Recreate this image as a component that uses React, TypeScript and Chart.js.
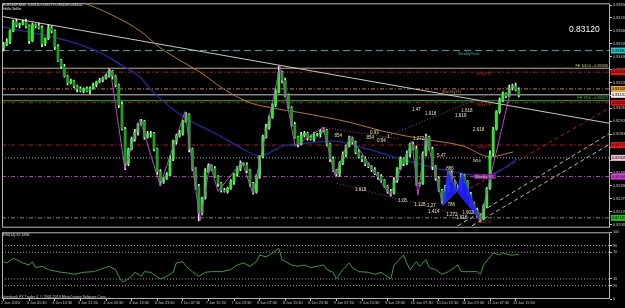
import { useEffect, useRef } from "react";
import { Chart, registerables } from "chart.js";

Chart.register(...registerables);

const FONT = "'Liberation Sans', 'DejaVu Sans', Arial, sans-serif";

// ---------------- texts ----------------
const symbolHeader = "EURGBP,M30  0.83110 0.83179 0.83108 0.83120";
const indicatorName = "Hello Seller";
const lastPriceText = "0.83120";
const rsiHeader = "RSI(14) 67.1296";
const copyright = "Interbank FX Trader 4, \u00a9 2001-2010 MetaQuotes Software Corp.";

// ---------------- time axis ----------------
const timeLabels = [
  "2 Jun 2010", "3 Jun 05:30", "3 Jun 13:30", "3 Jun 21:30", "4 Jun 05:30", "4 Jun 13:30",
  "6 Jun 23:30", "7 Jun 07:30", "7 Jun 15:30", "7 Jun 23:30", "8 Jun 07:30", "8 Jun 15:30",
  "8 Jun 23:30", "9 Jun 07:30", "9 Jun 15:30", "9 Jun 23:30", "10 Jun 07:30", "10 Jun 15:30",
  "10 Jun 23:30", "11 Jun 07:30", "11 Jun 15:30",
];
const timeTickBars = [0, 8, 16, 24, 32, 40, 48, 56, 64, 72, 80, 88, 96, 104, 112, 120, 128, 136, 144, 152, 160];

// ---------------- price bars ----------------
const firstOpen = 0.835;
const closes = [
  0.83528, 0.83552, 0.8364, 0.83712, 0.83688, 0.83696, 0.83712, 0.8368, 0.8356, 0.83688,
  0.8368, 0.83664, 0.83536, 0.83576, 0.83664, 0.8364, 0.83512, 0.834, 0.83352, 0.83272,
  0.83216, 0.83232, 0.83192, 0.83168, 0.83152, 0.83168, 0.83152, 0.83176, 0.832, 0.83224,
  0.8324, 0.83256, 0.83272, 0.83312, 0.83272, 0.832, 0.8304, 0.8284, 0.8256, 0.8268,
  0.8276, 0.82816, 0.8288, 0.82904, 0.82776, 0.828, 0.82808, 0.8268, 0.82496, 0.82416,
  0.8244, 0.82472, 0.826, 0.82744, 0.82784, 0.82808, 0.82904, 0.8296, 0.8268, 0.8252,
  0.82376, 0.8216, 0.8228, 0.82496, 0.82544, 0.8252, 0.82456, 0.824, 0.82344, 0.82336,
  0.8236, 0.82416, 0.82472, 0.8252, 0.8256, 0.82552, 0.82504, 0.824, 0.82328, 0.82456,
  0.82616, 0.82776, 0.82856, 0.82936, 0.8304, 0.83144, 0.83304, 0.8324, 0.8312, 0.83016,
  0.8288, 0.82776, 0.8272, 0.82792, 0.82808, 0.82776, 0.8276, 0.82792, 0.828, 0.82824,
  0.82832, 0.8272, 0.826, 0.82504, 0.8248, 0.8256, 0.82632, 0.82704, 0.82768, 0.82736,
  0.82656, 0.82616, 0.826, 0.8256, 0.82536, 0.82512, 0.8248, 0.82456, 0.82424, 0.82376,
  0.82336, 0.8232, 0.82424, 0.8252, 0.826, 0.8256, 0.8264, 0.8272, 0.8268, 0.824,
  0.824, 0.8264, 0.82776, 0.8268, 0.82536, 0.8244, 0.82344, 0.82256, 0.8236, 0.82488,
  0.82416, 0.8236, 0.8236, 0.82464, 0.82416, 0.82312, 0.8224, 0.82184, 0.82144, 0.82112,
  0.82216, 0.8236, 0.8264, 0.8284, 0.82984, 0.83072, 0.83128, 0.83112, 0.83176, 0.83192,
  0.8316, 0.8312,
];
// wick lengths in points (0.00001)
const wickUpPts = [
  16, 24, 8, 16, 24, 8, 16, 24, 8, 16,
  8, 24, 16, 8, 24, 16, 8, 16, 8, 16,
  8, 16, 8, 8, 16, 8, 16, 8, 16, 8,
  16, 8, 16, 24, 8, 8, 8, 24, 16, 8,
  16, 24, 8, 16, 8, 24, 16, 8, 8, 16,
  8, 16, 24, 8, 16, 24, 8, 16, 8, 8,
  8, 16, 8, 24, 16, 8, 16, 8, 8, 16,
  8, 16, 8, 16, 24, 8, 16, 8, 8, 16,
  8, 16, 24, 16, 8, 24, 48, 8, 16, 8,
  8, 16, 8, 24, 16, 8, 16, 24, 8, 16,
  24, 8, 8, 16, 8, 16, 24, 8, 16, 8,
  8, 16, 8, 16, 8, 8, 16, 8, 16, 8,
  8, 16, 24, 8, 16, 8, 24, 8, 16, 24,
  8, 16, 24, 8, 16, 8, 16, 8, 24, 8,
  16, 8, 24, 16, 8, 8, 16, 8, 16, 8,
  16, 8, 24, 16, 8, 24, 16, 8, 24, 16,
  24, 16,
];
const wickDownPts = [
  24, 8, 16, 8, 16, 24, 8, 16, 24, 8,
  16, 8, 24, 16, 8, 16, 24, 8, 16, 8,
  16, 8, 16, 24, 8, 16, 8, 24, 8, 16,
  8, 16, 8, 8, 24, 16, 24, 8, 48, 16,
  8, 16, 24, 8, 16, 8, 24, 16, 24, 32,
  16, 8, 8, 16, 24, 8, 16, 8, 24, 16,
  24, 64, 16, 8, 8, 16, 8, 24, 16, 8,
  16, 8, 24, 8, 16, 8, 16, 24, 16, 8,
  16, 8, 8, 16, 8, 16, 8, 24, 16, 8,
  16, 8, 24, 8, 16, 24, 8, 16, 8, 24,
  8, 16, 24, 8, 16, 24, 8, 16, 8, 16,
  16, 8, 24, 16, 8, 16, 8, 24, 16, 8,
  16, 24, 8, 16, 8, 16, 8, 24, 8, 16,
  24, 8, 16, 8, 24, 16, 8, 16, 8, 24,
  8, 16, 8, 24, 16, 8, 16, 24, 16, 24,
  8, 16, 8, 16, 8, 16, 8, 16, 8, 16,
  8, 16,
];

const priceTicks = [
  0.82065, 0.8217, 0.82275, 0.8238, 0.82485, 0.8259, 0.82695, 0.828, 0.82905,
  0.8301, 0.83115, 0.8322, 0.83325, 0.8343, 0.83535, 0.8364, 0.83745, 0.8385,
];

// ---------------- indicators / drawn objects ----------------
const blueMaBars = [-0.5, 9.2, 19.8, 30.1, 35.4, 42.6, 46.7, 56.1, 66.7, 74.8, 80.1, 87.3, 92.6, 102.9, 113.6, 123.9, 138.6, 148.9, 155.1, 160.4];
const blueMaValues = [0.83672, 0.83624, 0.8356, 0.83464, 0.83384, 0.83264, 0.83144, 0.82944, 0.828, 0.8268, 0.82624, 0.82704, 0.8272, 0.82744, 0.8268, 0.826, 0.82504, 0.82464, 0.82504, 0.826];
const orangeMaBars = [23.9, 33.3, 42.6, 48.9, 55.1, 61.4, 69.2, 77.0, 83.3, 92.6, 108.3, 118.6, 131.1, 143.6, 152.0, 159.2];
const orangeMaValues = [0.8388, 0.83776, 0.8364, 0.83504, 0.834, 0.83304, 0.8316, 0.83056, 0.83016, 0.82976, 0.82896, 0.82824, 0.8276, 0.82704, 0.82616, 0.82656];
const trendBars = [-0.5, 189.5];
const trendValues = [0.83757, 0.82888];
const zigzagBars = [30.1, 33.3, 37.9, 42.6, 48.9, 56.7, 61.4, 64.5, 67.0, 74.5, 77.9, 86.4, 91.1, 99.8, 103.6, 108.3, 120.8, 127.6, 129.5, 132.0, 137.3, 139.2, 148.9, 158.9];
const zigzagValues = [0.83224, 0.83336, 0.8252, 0.8292, 0.82384, 0.82984, 0.82096, 0.8256, 0.82336, 0.82576, 0.8232, 0.83352, 0.82704, 0.82856, 0.82464, 0.82784, 0.82304, 0.82744, 0.82304, 0.82784, 0.82224, 0.82504, 0.82096, 0.832];
const patternXabBars = [137.3, 138.9, 141.7, 137.3];
const patternXabValues = [0.82224, 0.82496, 0.82336, 0.82224];
const patternBcdBars = [141.7, 143.3, 148.6, 141.7];
const patternBcdValues = [0.82336, 0.8248, 0.8212, 0.82336];
const fibLine1Bars = [117.6, 158.9];
const fibLine1Values = [0.8276, 0.832];
const fibLine2Bars = [99.8, 123.9];
const fibLine2Values = [0.82856, 0.8276];
const fibLine3Bars = [104.2, 148.9];
const fibLine3Values = [0.824, 0.82104];
const channelUpperBars = [142.0, 189.5];
const channelUpperValues = [0.82056, 0.82808];
const channelLowerBars = [146.4, 189.5];
const channelLowerValues = [0.82056, 0.8272];
const redRayBars = [145.7, 189.5];
const redRayValues = [0.8236, 0.83016];

const levelPrices = [0.8348, 0.83336, 0.83304, 0.83168, 0.8312, 0.83072, 0.83056, 0.82712, 0.82608, 0.82456, 0.8212];

const fibNotes = [
  { text: ".854", bar: 103.0, price: 0.82784 },
  { text: ".854", bar: 113.0, price: 0.82768 },
  { text: "0.93", bar: 114.5, price: 0.82808 },
  { text: "0.94", bar: 116.7, price: 0.82744 },
  { text: "1", bar: 119.8, price: 0.82776 },
  { text: "1.618", bar: 109.8, price: 0.82352 },
  { text: "1.47", bar: 127.6, price: 0.83 },
  { text: "1.618", bar: 131.7, price: 0.82968 },
  { text: "1.618", bar: 141.1, price: 0.82952 },
  { text: "1.618", bar: 143.0, price: 0.82992 },
  { text: "2.618", bar: 146.7, price: 0.8284 },
  { text: "1.272", bar: 127.9, price: 0.8276 },
  { text: "5.47", bar: 135.4, price: 0.82624 },
  { text: ".886", bar: 137.9, price: 0.8252 },
  { text: "1.05", bar: 123.3, price: 0.82256 },
  { text: "1.128", bar: 128.3, price: 0.82224 },
  { text: "1.27", bar: 132.3, price: 0.82216 },
  { text: ".786", bar: 138.3, price: 0.82224 },
  { text: "1.414", bar: 132.6, price: 0.82168 },
  { text: "1.272", bar: 138.3, price: 0.82144 },
  { text: "1.618", bar: 141.4, price: 0.8212 },
  { text: "1.902", bar: 143.3, price: 0.8216 },
];
const levelNotes = [
  { text: "WeeklyPivot", bar: 142.0, price: 0.83456 },
  { text: "Daily R1", bar: 147.9, price: 0.83288 },
  { text: "Monthly R1", bar: 137.0, price: 0.83144 },
  { text: "Daily PP", bar: 147.9, price: 0.8304 },
  { text: "Daily S1", bar: 147.9, price: 0.82696 },
  { text: "W50", bar: 146.7, price: 0.82584 },
  { text: "Weekly S1", bar: 147.3, price: 0.82456 },
  { text: "Daily S2", bar: 148.2, price: 0.82088 },
];
const feNotes = [
  { text: "FE 100.0 - 0.83336", price: 0.83352 },
  { text: "FE 78.6 - 0.83072", price: 0.83096 },
];

// ---------------- RSI ----------------
const rsiBars = [0, 1, 3, 4, 6, 8, 9, 10, 12, 14, 17, 18, 20, 22, 25, 28, 30, 33, 35, 36, 37, 38, 40, 41, 43, 44, 46, 48, 49, 51, 53, 54, 56, 57, 59, 61, 63, 65, 68, 71, 73, 75, 77, 79, 80, 82, 84, 86, 87, 90, 92, 94, 96, 98, 100, 101, 103, 104, 106, 108, 109, 111, 114, 116, 118, 120, 121, 122, 124, 125, 126, 127, 129, 130, 132, 133, 135, 137, 139, 140, 142, 143, 146, 148, 149, 150, 152, 153, 155, 156, 158, 159, 160, 161];
const rsiValues = [56, 54, 61, 59, 54, 51, 56, 47, 49, 44, 41, 40, 39, 37, 40, 41, 44, 49, 44, 34, 26, 27, 34, 40, 34, 41, 40, 33, 30, 34, 40, 54, 56, 49, 41, 34, 40, 41, 41, 44, 51, 54, 49, 56, 66, 63, 69, 76, 59, 51, 49, 51, 47, 49, 51, 44, 40, 30, 44, 54, 47, 41, 40, 37, 40, 33, 30, 51, 61, 66, 54, 44, 56, 49, 59, 47, 44, 37, 41, 44, 51, 41, 41, 41, 37, 51, 63, 69, 66, 69, 66, 66, 66, 67.13];
const rsiTicks = [0, 20, 30, 70, 80, 100];
const rsiLevels = [20, 30, 70, 80];

// ---------------- styles ----------------
const AXIS = "#c4c4c4";
const UP = "#30e830";
const DOWN = "#1e9e1e";
const WICK = "#d8f8d8";
const DASHDOT = [4, 2, 1, 2];
const levelStyles = [
  { color: "#2aa8a8", dash: [7, 4] },
  { color: "#bdb37d", dash: [] },
  { color: "#b01c1c", dash: DASHDOT },
  { color: "#c4823c", dash: DASHDOT },
  { color: "#c8c8c8", dash: [] },
  { color: "#34b034", dash: [] },
  { color: "#b01c1c", dash: DASHDOT },
  { color: "#b01c1c", dash: DASHDOT },
  { color: "#a8a8a8", dash: [1, 2] },
  { color: "#b040b0", dash: DASHDOT },
  { color: "#7a8c6a", dash: DASHDOT },
];
const levelBoxColors = ["#22c8c8", null, "#e01818", "#e8a030", "#f0f0f0", null, "#e01818", "#e01818", "#f4c0cc", "#e040e0", "#20c020"];
const levelNoteColors = ["#2fb8b8", "#d02828", "#d08a3a", "#d02828", "#d02828", "#e0e0e0", "#f0c0f0", "#d02828"];
const feColors = ["#d4cc8c", "#40c840"];

function txt(ctx: CanvasRenderingContext2D, s: string, x: number, y: number, color: string, size: number, align: CanvasTextAlign = "left") {
  ctx.font = `${size}px ${FONT}`;
  ctx.fillStyle = color;
  ctx.textAlign = align;
  ctx.textBaseline = "middle";
  ctx.fillText(s, x, y);
}

const framePlugin = {
  id: "frame",
  afterDraw(chart: any) {
    const { ctx, chartArea: a } = chart;
    ctx.save();
    ctx.strokeStyle = "#b4b4b4";
    ctx.lineWidth = 1;
    ctx.strokeRect(a.left + 0.5, a.top + 0.5, a.right - a.left - 1, a.bottom - a.top - 1);
    ctx.restore();
  },
};

const mainOverlay = {
  id: "mainOverlay",
  afterDatasetsDraw(chart: any) {
    const { ctx, scales } = chart;
    const x = scales.x, y = scales.y;
    ctx.save();
    fibNotes.forEach((n) => txt(ctx, n.text, x.getPixelForValue(n.bar), y.getPixelForValue(n.price), "#e6e6a8", 4.5));
    levelNotes.forEach((n, i) => {
      const px = x.getPixelForValue(n.bar), py = y.getPixelForValue(n.price);
      if (n.text === "Weekly S1") {
        ctx.fillStyle = "#7a1c86";
        ctx.fillRect(px - 1, py - 2.5, 22, 5);
      }
      txt(ctx, n.text, px, py, levelNoteColors[i], 3.8);
    });
    feNotes.forEach((n, i) => txt(ctx, n.text, chart.chartArea.right - 2, y.getPixelForValue(n.price), feColors[i], 3.8, "right"));
    ctx.restore();
  },
  afterDraw(chart: any) {
    const { ctx, scales, chartArea } = chart;
    const y = scales.y;
    ctx.save();
    levelPrices.forEach((p, i) => {
      const c = levelBoxColors[i];
      if (!c) return;
      const py = y.getPixelForValue(p);
      ctx.fillStyle = c;
      ctx.fillRect(chartArea.right + 1, py - 3, 16, 6);
      txt(ctx, p.toFixed(5), chartArea.right + 2, py, "#000", 3.8);
    });
    txt(ctx, symbolHeader, 3, 4.5, "#e8e8e8", 3.6);
    txt(ctx, indicatorName, 3, 8.5, "#e8e8e8", 3.6);
    txt(ctx, lastPriceText, 569, 30, "#ffffff", 8.5);
    ctx.restore();
  },
};

const rsiOverlay = {
  id: "rsiOverlay",
  afterDraw(chart: any) {
    const { ctx } = chart;
    ctx.save();
    txt(ctx, rsiHeader, 3, 6, "#e8e8e8", 3.6);
    txt(ctx, copyright, 3, 68, "#d8d8d8", 3.6);
    ctx.restore();
  },
};

export default function App() {
  const mainRef = useRef<HTMLCanvasElement | null>(null);
  const rsiRef = useRef<HTMLCanvasElement | null>(null);

  useEffect(() => {
    document.body.style.margin = "0";
    document.body.style.background = "#000";
    if (!mainRef.current || !rsiRef.current) return;

    const PT = 0.00001;
    const opens = closes.map((c, i) => (i === 0 ? firstOpen : closes[i - 1]));
    const wickData = closes.map((c, i) => ({
      x: i,
      y: [Math.min(opens[i], c) - wickDownPts[i] * PT, Math.max(opens[i], c) + wickUpPts[i] * PT],
    }));
    const bodyData = closes.map((c, i) => ({ x: i, y: [opens[i], c] }));
    const bodyColors = closes.map((c, i) => (c >= opens[i] ? UP : DOWN));
    const pts = (bars: number[], vals: number[]) => bars.map((b, i) => ({ x: b, y: vals[i] }));
    const line = (data: any[], color: string, order: number, extra: any = {}) => ({
      type: "line",
      data,
      borderColor: color,
      backgroundColor: color,
      borderWidth: 1,
      pointRadius: 0,
      fill: false,
      tension: 0,
      order,
      ...extra,
    });

    const levelDatasets = levelPrices.map((p, i) =>
      line([{ x: -0.5, y: p }, { x: 189.5, y: p }], levelStyles[i].color, 30, { borderDash: levelStyles[i].dash })
    );

    const mainDatasets: any[] = [
      ...levelDatasets,
      line(pts(channelUpperBars, channelUpperValues), "#c8c080", 25, { borderDash: [4, 3] }),
      line(pts(channelLowerBars, channelLowerValues), "#c8c080", 25, { borderDash: [4, 3] }),
      line(pts(redRayBars, redRayValues), "#a82020", 25, { borderDash: [4, 3] }),
      line(pts(blueMaBars, blueMaValues), "#2626a8", 20, { borderWidth: 1.3, cubicInterpolationMode: "monotone" }),
      line(pts(orangeMaBars, orangeMaValues), "#b87830", 20, { cubicInterpolationMode: "monotone" }),
      line(pts(trendBars, trendValues), "#c8c8c8", 20),
      {
        type: "bar",
        data: wickData,
        backgroundColor: WICK,
        barThickness: 1,
        grouped: false,
        borderWidth: 0,
        order: 12,
      },
      {
        type: "bar",
        data: bodyData,
        backgroundColor: bodyColors,
        barThickness: 2.2,
        grouped: false,
        borderWidth: 0,
        order: 11,
      },
      line(pts(fibLine1Bars, fibLine1Values), "#a040b0", 6, { borderDash: [1, 2] }),
      line(pts(fibLine2Bars, fibLine2Values), "#a040b0", 6, { borderDash: [1, 2] }),
      line(pts(fibLine3Bars, fibLine3Values), "#a040b0", 6, { borderDash: [1, 2] }),
      line(pts(zigzagBars, zigzagValues), "#b848c8", 5),
      line(pts(patternXabBars, patternXabValues), "#3434ff", 4, { fill: "shape", backgroundColor: "rgba(30,30,255,0.9)" }),
      line(pts(patternBcdBars, patternBcdValues), "#3434ff", 4, { fill: "shape", backgroundColor: "rgba(30,30,255,0.9)" }),
    ];

    const common: any = {
      responsive: false,
      animation: false,
      devicePixelRatio: 1,
      events: [],
      plugins: { legend: { display: false }, tooltip: { enabled: false } },
    };

    const c1 = new Chart(mainRef.current, {
      type: "bar",
      data: { datasets: mainDatasets },
      options: {
        ...common,
        layout: { padding: { left: 2, top: 2, right: 0, bottom: 1 } },
        scales: {
          x: { type: "linear", min: -0.5, max: 189.5, offset: false, display: false },
          y: {
            type: "linear",
            position: "right",
            min: 0.8204,
            max: 0.83864,
            afterFit: (s: any) => { s.width = 15; },
            afterBuildTicks: (s: any) => { s.ticks = priceTicks.map((v) => ({ value: v })); },
            ticks: {
              color: AXIS,
              font: { size: 3.8, family: FONT },
              padding: 1,
              autoSkip: false,
              callback: (v: any) => Number(v).toFixed(5),
            },
            grid: { display: true, drawOnChartArea: false, drawTicks: true, tickLength: 2, color: AXIS },
            border: { display: false },
          },
        },
      } as any,
      plugins: [framePlugin, mainOverlay],
    } as any);

    const rsiDatasets: any[] = [
      ...rsiLevels.map((v) => line([{ x: -0.5, y: v }, { x: 189.5, y: v }], "#a0a0a0", 10, { borderDash: [1, 2] })),
      line(pts(rsiBars, rsiValues), "#3c9c3c", 1),
    ];

    const c2 = new Chart(rsiRef.current, {
      type: "line",
      data: { datasets: rsiDatasets },
      options: {
        ...common,
        layout: { padding: { left: 2, top: 3, right: 0, bottom: 0 } },
        scales: {
          x: {
            type: "linear",
            min: -0.5,
            max: 189.5,
            offset: false,
            position: "bottom",
            afterFit: (s: any) => { s.height = 9; },
            afterBuildTicks: (s: any) => { s.ticks = timeTickBars.map((v) => ({ value: v })); },
            ticks: {
              color: AXIS,
              font: { size: 3.8, family: FONT },
              align: "start",
              labelOffset: -2.5,
              padding: 0,
              autoSkip: false,
              maxRotation: 0,
              minRotation: 0,
              callback: (_v: any, i: number) => timeLabels[i],
            },
            grid: { display: true, drawOnChartArea: false, drawTicks: true, tickLength: 2, color: AXIS },
            border: { display: false },
          },
          y: {
            type: "linear",
            position: "right",
            min: 0,
            max: 100,
            afterFit: (s: any) => { s.width = 15; },
            afterBuildTicks: (s: any) => { s.ticks = rsiTicks.map((v) => ({ value: v })); },
            ticks: { color: AXIS, font: { size: 3.8, family: FONT }, padding: 1, autoSkip: false },
            grid: { display: true, drawOnChartArea: false, drawTicks: true, tickLength: 2, color: AXIS },
            border: { display: false },
          },
        },
      } as any,
      plugins: [framePlugin, rsiOverlay],
    } as any);

    return () => {
      c1.destroy();
      c2.destroy();
    };
  }, []);

  return (
    <div style={{ position: "relative", width: 625, height: 308, background: "#000", overflow: "hidden" }}>
      <canvas ref={mainRef} width={625} height={231} style={{ position: "absolute", left: 0, top: 0, width: 625, height: 231 }} />
      <canvas ref={rsiRef} width={625} height={79} style={{ position: "absolute", left: 0, top: 229, width: 625, height: 79 }} />
    </div>
  );
}
